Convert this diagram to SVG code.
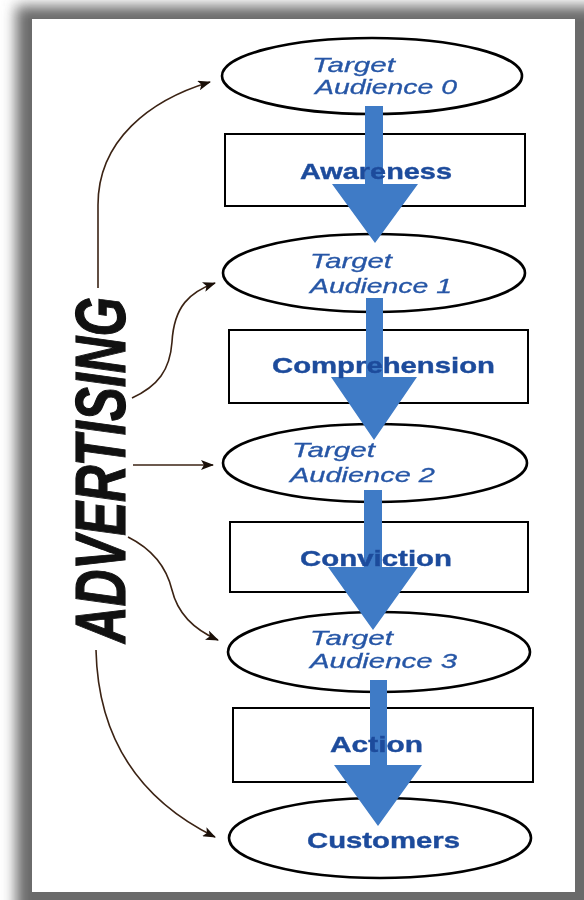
<svg xmlns="http://www.w3.org/2000/svg" width="584" height="900" viewBox="0 0 584 900">
  <defs>
    <filter id="soft" x="-10%" y="-10%" width="120%" height="120%">
      <feGaussianBlur stdDeviation="7"/>
    </filter>
    <filter id="glow" x="-5%" y="-20%" width="110%" height="140%">
      <feGaussianBlur in="SourceGraphic" stdDeviation="0.5"/>
    </filter>
    <marker id="tip" markerWidth="13" markerHeight="10" refX="12" refY="5" orient="auto" markerUnits="userSpaceOnUse">
      <path d="M0,0 L13,5 L0,10 L3,5 z" fill="#1a0f08"/>
    </marker>
  </defs>
  <style>
    .oval { fill: none; stroke: #000; stroke-width: 2.6; }
    .box { fill: none; stroke: #000; stroke-width: 2; }
    .flow { fill: #3f7bc6; }
    .link { fill: none; stroke: #3b2314; stroke-width: 1.6; marker-end: url(#tip); }
    .aud { font-family: "Liberation Sans", Arial, sans-serif; font-style: italic; font-size: 21px; fill: #2656a6; stroke: #2656a6; stroke-width: 0.3; }
    .stage { font-family: "Liberation Sans", Arial, sans-serif; font-weight: bold; font-size: 22px; fill: #1f4c9c; stroke: #1f4c9c; stroke-width: 0.4; }
    .ad { font-family: "Liberation Sans Narrow", "Liberation Sans", Arial, sans-serif; font-weight: bold; font-style: italic; font-size: 70px; fill: #111; stroke: #111; stroke-width: 1.2; }
  </style>

  <!-- page with soft drop shadow -->
  <rect x="0" y="0" width="584" height="900" fill="#ffffff"/>
  <rect x="16" y="6" width="590" height="910" fill="#6a6a6a" filter="url(#soft)"/>
  <rect x="32" y="19" width="543" height="873" fill="#ffffff"/>

  <!-- advertising influence curves -->
  <g id="connectors">
    <path class="link" d="M98,288 L98,205 C98,140 150,100 210,82"/>
    <path class="link" d="M132,398 C158,386 170,370 172,342 C174,306 190,292 215,283"/>
    <path class="link" d="M133,465 L213,465"/>
    <path class="link" d="M128,537 C150,548 166,565 172,590 C178,615 195,630 218,640"/>
    <path class="link" d="M96,650 C98,740 140,800 215,837"/>
  </g>

  <g id="audience-0">
    <ellipse class="oval" cx="372" cy="76" rx="150" ry="38"/>
  </g>
  <g id="awareness">
    <rect class="box" x="225" y="134" width="300" height="72"/>
  </g>
  <g id="audience-1">
    <ellipse class="oval" cx="374" cy="273" rx="151" ry="39"/>
  </g>
  <g id="comprehension">
    <rect class="box" x="229" y="330" width="299" height="73"/>
  </g>
  <g id="audience-2">
    <ellipse class="oval" cx="375" cy="463" rx="152" ry="39"/>
  </g>
  <g id="conviction">
    <rect class="box" x="230" y="522" width="298" height="70"/>
  </g>
  <g id="audience-3">
    <ellipse class="oval" cx="379" cy="652" rx="151" ry="40"/>
  </g>
  <g id="action">
    <rect class="box" x="233" y="708" width="300" height="74"/>
  </g>
  <g id="customers">
    <ellipse class="oval" cx="380" cy="838" rx="151" ry="40"/>
  </g>

  <!-- big flow arrows, drawn over the outlines -->
  <g id="flow-arrows">
    <polygon class="flow" points="365,106 383,106 383,184 418,184 375,243 332,184 365,184"/>
    <polygon class="flow" points="366,298 383,298 383,377 417,377 374,440 331,377 366,377"/>
    <polygon class="flow" points="364,490 382,490 382,567 418,567 373,630 328,567 364,567"/>
    <polygon class="flow" points="370,680 387,680 387,765 422,765 378,826 334,765 370,765"/>
  </g>

  <!-- labels sit above the flow arrows -->
  <g id="labels" filter="url(#glow)">
    <text class="aud" x="312" y="72" textLength="83" lengthAdjust="spacingAndGlyphs">Target</text>
    <text class="aud" x="315" y="94" textLength="142" lengthAdjust="spacingAndGlyphs">Audience 0</text>
    <text class="stage" x="300" y="179" textLength="152" lengthAdjust="spacingAndGlyphs">Awareness</text>

    <text class="aud" x="310" y="268" textLength="82" lengthAdjust="spacingAndGlyphs">Target</text>
    <text class="aud" x="310" y="293" textLength="142" lengthAdjust="spacingAndGlyphs">Audience 1</text>
    <text class="stage" x="272" y="373" textLength="223" lengthAdjust="spacingAndGlyphs">Comprehension</text>

    <text class="aud" x="292" y="457" textLength="83" lengthAdjust="spacingAndGlyphs">Target</text>
    <text class="aud" x="290" y="482" textLength="145" lengthAdjust="spacingAndGlyphs">Audience 2</text>
    <text class="stage" x="300" y="566" textLength="152" lengthAdjust="spacingAndGlyphs">Conviction</text>

    <text class="aud" x="310" y="645" textLength="83" lengthAdjust="spacingAndGlyphs">Target</text>
    <text class="aud" x="310" y="668" textLength="147" lengthAdjust="spacingAndGlyphs">Audience 3</text>
    <text class="stage" x="330" y="752" textLength="93" lengthAdjust="spacingAndGlyphs">Action</text>

    <text class="stage" x="307" y="848" textLength="153" lengthAdjust="spacingAndGlyphs">Customers</text>
  </g>

  <g id="advertising">
    <text class="ad" transform="translate(125,470) rotate(-90)" x="0" y="0" text-anchor="middle" textLength="346" lengthAdjust="spacingAndGlyphs">ADVERTISING</text>
  </g>
</svg>
